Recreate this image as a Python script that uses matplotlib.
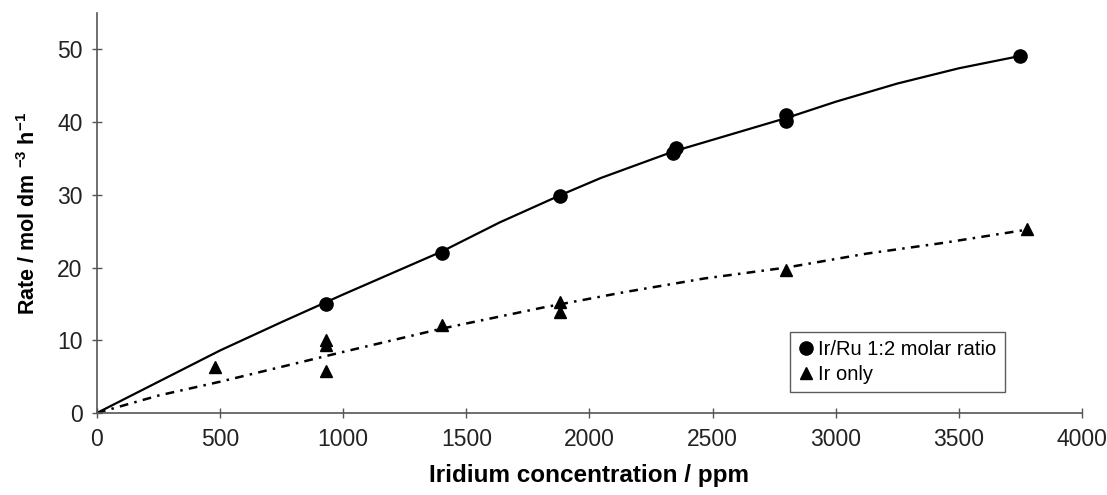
import matplotlib
matplotlib.use("Agg")
import matplotlib.pyplot as plt

plt.rcParams["font.family"] = ["Liberation Sans", "DejaVu Sans"]

# Ir/Ru 1:2 molar ratio - mesures
irru_x = [930, 1400, 1880, 2340, 2350, 2800, 2800, 3750]
irru_y = [15.0, 22.0, 29.8, 35.8, 36.4, 40.1, 41.0, 49.1]

# Ir seul - mesures
ir_x = [480, 930, 930, 930, 1400, 1880, 1880, 2800, 3775]
ir_y = [6.3, 10.1, 9.4, 5.8, 12.1, 15.3, 13.9, 19.6, 25.3]

# Courbes de tendance
fit_irru_x = [0, 250, 500, 750, 1000, 1400, 1635, 1885, 2045, 2344, 2803, 3000, 3250, 3500, 3750]
fit_irru_y = [0, 4.3, 8.6, 12.5, 16.3, 22.2, 26.2, 30.0, 32.3, 36.0, 40.6, 42.8, 45.3, 47.4, 49.1]

fit_ir_x = [0, 250, 500, 1000, 1400, 1811, 2139, 2467, 2800, 3123, 3439, 3775]
fit_ir_y = [0, 2.4, 4.3, 8.4, 11.6, 14.5, 16.6, 18.5, 20.0, 21.9, 23.4, 25.2]

x_ticks = [0, 500, 1000, 1500, 2000, 2500, 3000, 3500, 4000]
y_ticks = [0, 10, 20, 30, 40, 50]

fig = plt.figure(figsize=(11.07, 4.95), dpi=100)
ax = fig.add_axes([0.0876, 0.1657, 0.8898, 0.808])

ax.plot(fit_irru_x, fit_irru_y, color="black", lw=1.6)
ax.plot(fit_ir_x, fit_ir_y, color="black", lw=1.8, dashes=(3.5, 2.5, 1, 2.5))
ax.plot(irru_x, irru_y, "o", color="black", ms=9.5, label="Ir/Ru 1:2 molar ratio")
ax.plot(ir_x, ir_y, "^", color="black", ms=9, label="Ir only")

ax.set_xlim(0, 4000)
ax.set_ylim(0, 55)
ax.set_xticks(x_ticks)
ax.set_yticks(y_ticks)

for side in ["top", "right"]:
    ax.spines[side].set_visible(False)
for side in ["left", "bottom"]:
    ax.spines[side].set_color("#555555")
    ax.spines[side].set_linewidth(1.2)

ax.tick_params(direction="inout", length=7, width=1, color="#555555",
               labelsize=16.5, labelcolor="#222222", pad=7)

ax.set_xlabel("Iridium concentration / ppm", fontsize=17.5, fontweight="bold", labelpad=10)
ax.set_ylabel(r"Rate / mol dm $^{\mathregular{-3}}$ h$^{\mathregular{-1}}$",
              fontsize=15.5, fontweight="bold", labelpad=12)

leg = ax.legend(loc="lower left", bbox_to_anchor=(0.7036, 0.0525, 0.2335, 0.1375),
                borderaxespad=0, fontsize=14.5, frameon=True, fancybox=False,
                handletextpad=0.2, handlelength=0.8, borderpad=0.4, labelspacing=0.3)
leg.get_frame().set_edgecolor("#333333")
leg.get_frame().set_linewidth(1.0)

fig.savefig("out.png", dpi=100)
